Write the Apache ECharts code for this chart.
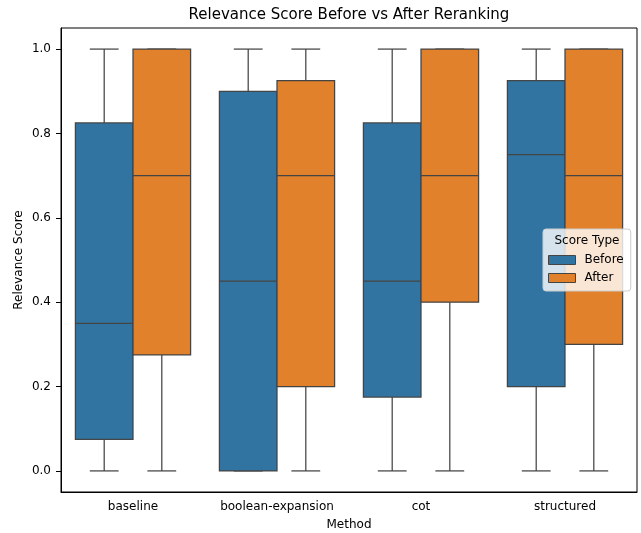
<!DOCTYPE html>
<html>
<head>
<meta charset="utf-8">
<script src="https://cdn.jsdelivr.net/npm/echarts@6/dist/echarts.min.js"></script>
<style>html,body{margin:0;padding:0;background:#fff}#c{width:641px;height:533px}</style>
</head>
<body>
<div id="c"></div>
<script>
const categories = ['baseline', 'boolean-expansion', 'cot', 'structured'];
// [min, Q1, median, Q3, max]
const beforeStats = [
  [0, 0.075, 0.35, 0.825, 1.0],
  [0, 0.0, 0.45, 0.9, 1.0],
  [0, 0.175, 0.45, 0.825, 1.0],
  [0, 0.2, 0.75, 0.925, 1.0]
];
const afterStats = [
  [0, 0.275, 0.7, 1.0, 1.0],
  [0, 0.2, 0.7, 0.925, 1.0],
  [0, 0.4, 0.7, 1.0, 1.0],
  [0, 0.3, 0.7, 1.0, 1.0]
];
const yTicks = [0, 0.2, 0.4, 0.6, 0.8, 1.0];
const seriesNames = ['Before', 'After'];
const colors = ['#3274a1', '#e1812c'];
const lineColor = '#444444';
const FONT = 'DejaVu Sans';

function renderBox(params, api) {
  const idx = api.value(0);
  const bw = api.coord([1, 0])[0] - api.coord([0, 0])[0];
  const off = (params.seriesIndex === 0 ? -0.2 : 0.2) * bw;
  const w = 0.4 * bw;
  const cx = api.coord([idx, 0])[0] + off;
  const yMin = api.coord([idx, api.value(1)])[1];
  const yQ1 = api.coord([idx, api.value(2)])[1];
  const yMed = api.coord([idx, api.value(3)])[1];
  const yQ3 = api.coord([idx, api.value(4)])[1];
  const yMax = api.coord([idx, api.value(5)])[1];
  const ls = { stroke: lineColor, lineWidth: 1.25 };
  const capW = w / 2;
  return {
    type: 'group',
    children: [
      { type: 'line', shape: { x1: cx, y1: yQ1, x2: cx, y2: yMin }, style: ls },
      { type: 'line', shape: { x1: cx, y1: yQ3, x2: cx, y2: yMax }, style: ls },
      { type: 'line', shape: { x1: cx - capW / 2, y1: yMin, x2: cx + capW / 2, y2: yMin }, style: ls },
      { type: 'line', shape: { x1: cx - capW / 2, y1: yMax, x2: cx + capW / 2, y2: yMax }, style: ls },
      { type: 'rect', shape: { x: cx - w / 2, y: yQ3, width: w, height: yQ1 - yQ3 },
        style: { fill: colors[params.seriesIndex], stroke: lineColor, lineWidth: 1.25 } },
      { type: 'line', shape: { x1: cx - w / 2, y1: yMed, x2: cx + w / 2, y2: yMed }, style: ls }
    ]
  };
}

function toData(stats) {
  return stats.map((s, i) => [i].concat(s));
}

const chart = echarts.init(document.getElementById('c'), null, { renderer: 'canvas' });
chart.setOption({
  animation: false,
  backgroundColor: '#fff',
  textStyle: { fontFamily: FONT },
  grid: { left: 61, right: 4, top: 28, bottom: 41, show: true, borderColor: '#000', borderWidth: 1,
    backgroundColor: 'transparent', containLabel: false, outerBoundsMode: 'none' },
  xAxis: {
    type: 'category',
    data: categories,
    boundaryGap: true,
    name: 'Method',
    nameLocation: 'middle',
    nameGap: 27,
    nameTextStyle: { fontSize: 12, color: '#000', fontFamily: FONT },
    axisLine: { onZero: false, lineStyle: { color: '#000', width: 1 } },
    axisTick: { alignWithLabel: true, length: 5, interval: 0, lineStyle: { color: '#000' } },
    axisLabel: { fontSize: 12, color: '#000', margin: 9, interval: 0, fontFamily: FONT },
    splitLine: { show: false }
  },
  yAxis: {
    type: 'value',
    min: -0.05,
    max: 1.05,
    name: 'Relevance Score',
    nameLocation: 'middle',
    nameGap: 36,
    nameMoveOverlap: false,
    nameTextStyle: { fontSize: 12, color: '#000', fontFamily: FONT },
    axisLine: { show: true, onZero: false, lineStyle: { color: '#000', width: 1 } },
    axisTick: { show: true, length: 5, customValues: yTicks, lineStyle: { color: '#000' } },
    axisLabel: { fontSize: 12, color: '#000', margin: 10, customValues: yTicks, fontFamily: FONT,
      formatter: v => Number(v).toFixed(1) },
    splitLine: { show: false }
  },
  legend: {
    orient: 'vertical',
    left: 543,
    top: 229,
    padding: [25, 7, 7, 5],
    itemGap: 6,
    itemWidth: 27,
    itemHeight: 9,
    icon: 'rect',
    backgroundColor: 'rgba(255,255,255,0.8)',
    borderColor: '#cccccc',
    borderWidth: 1,
    borderRadius: 3,
    textStyle: { fontSize: 12, color: '#000', fontFamily: FONT, padding: [0, 0, 0, 4] },
    data: [
      { name: 'Before', itemStyle: { color: colors[0], borderColor: lineColor, borderWidth: 1 } },
      { name: 'After', itemStyle: { color: colors[1], borderColor: lineColor, borderWidth: 1 } }
    ]
  },
  graphic: [
    { type: 'text', x: 349, y: 15, z: 100,
      style: { text: 'Relevance Score Before vs After Reranking', font: '15px "DejaVu Sans"', fill: '#000', textAlign: 'center', textVerticalAlign: 'middle' } },
    { type: 'text', x: 587, y: 241, z: 100,
      style: { text: 'Score Type', font: '12px "DejaVu Sans"', fill: '#000', textAlign: 'center', textVerticalAlign: 'middle' } }
  ],
  series: [
    { name: seriesNames[0], type: 'custom', renderItem: renderBox, data: toData(beforeStats),
      itemStyle: { color: colors[0] }, encode: { x: 0, y: [1, 2, 3, 4, 5] }, z: 2 },
    { name: seriesNames[1], type: 'custom', renderItem: renderBox, data: toData(afterStats),
      itemStyle: { color: colors[1] }, encode: { x: 0, y: [1, 2, 3, 4, 5] }, z: 2 }
  ]
});
</script>
</body>
</html>
